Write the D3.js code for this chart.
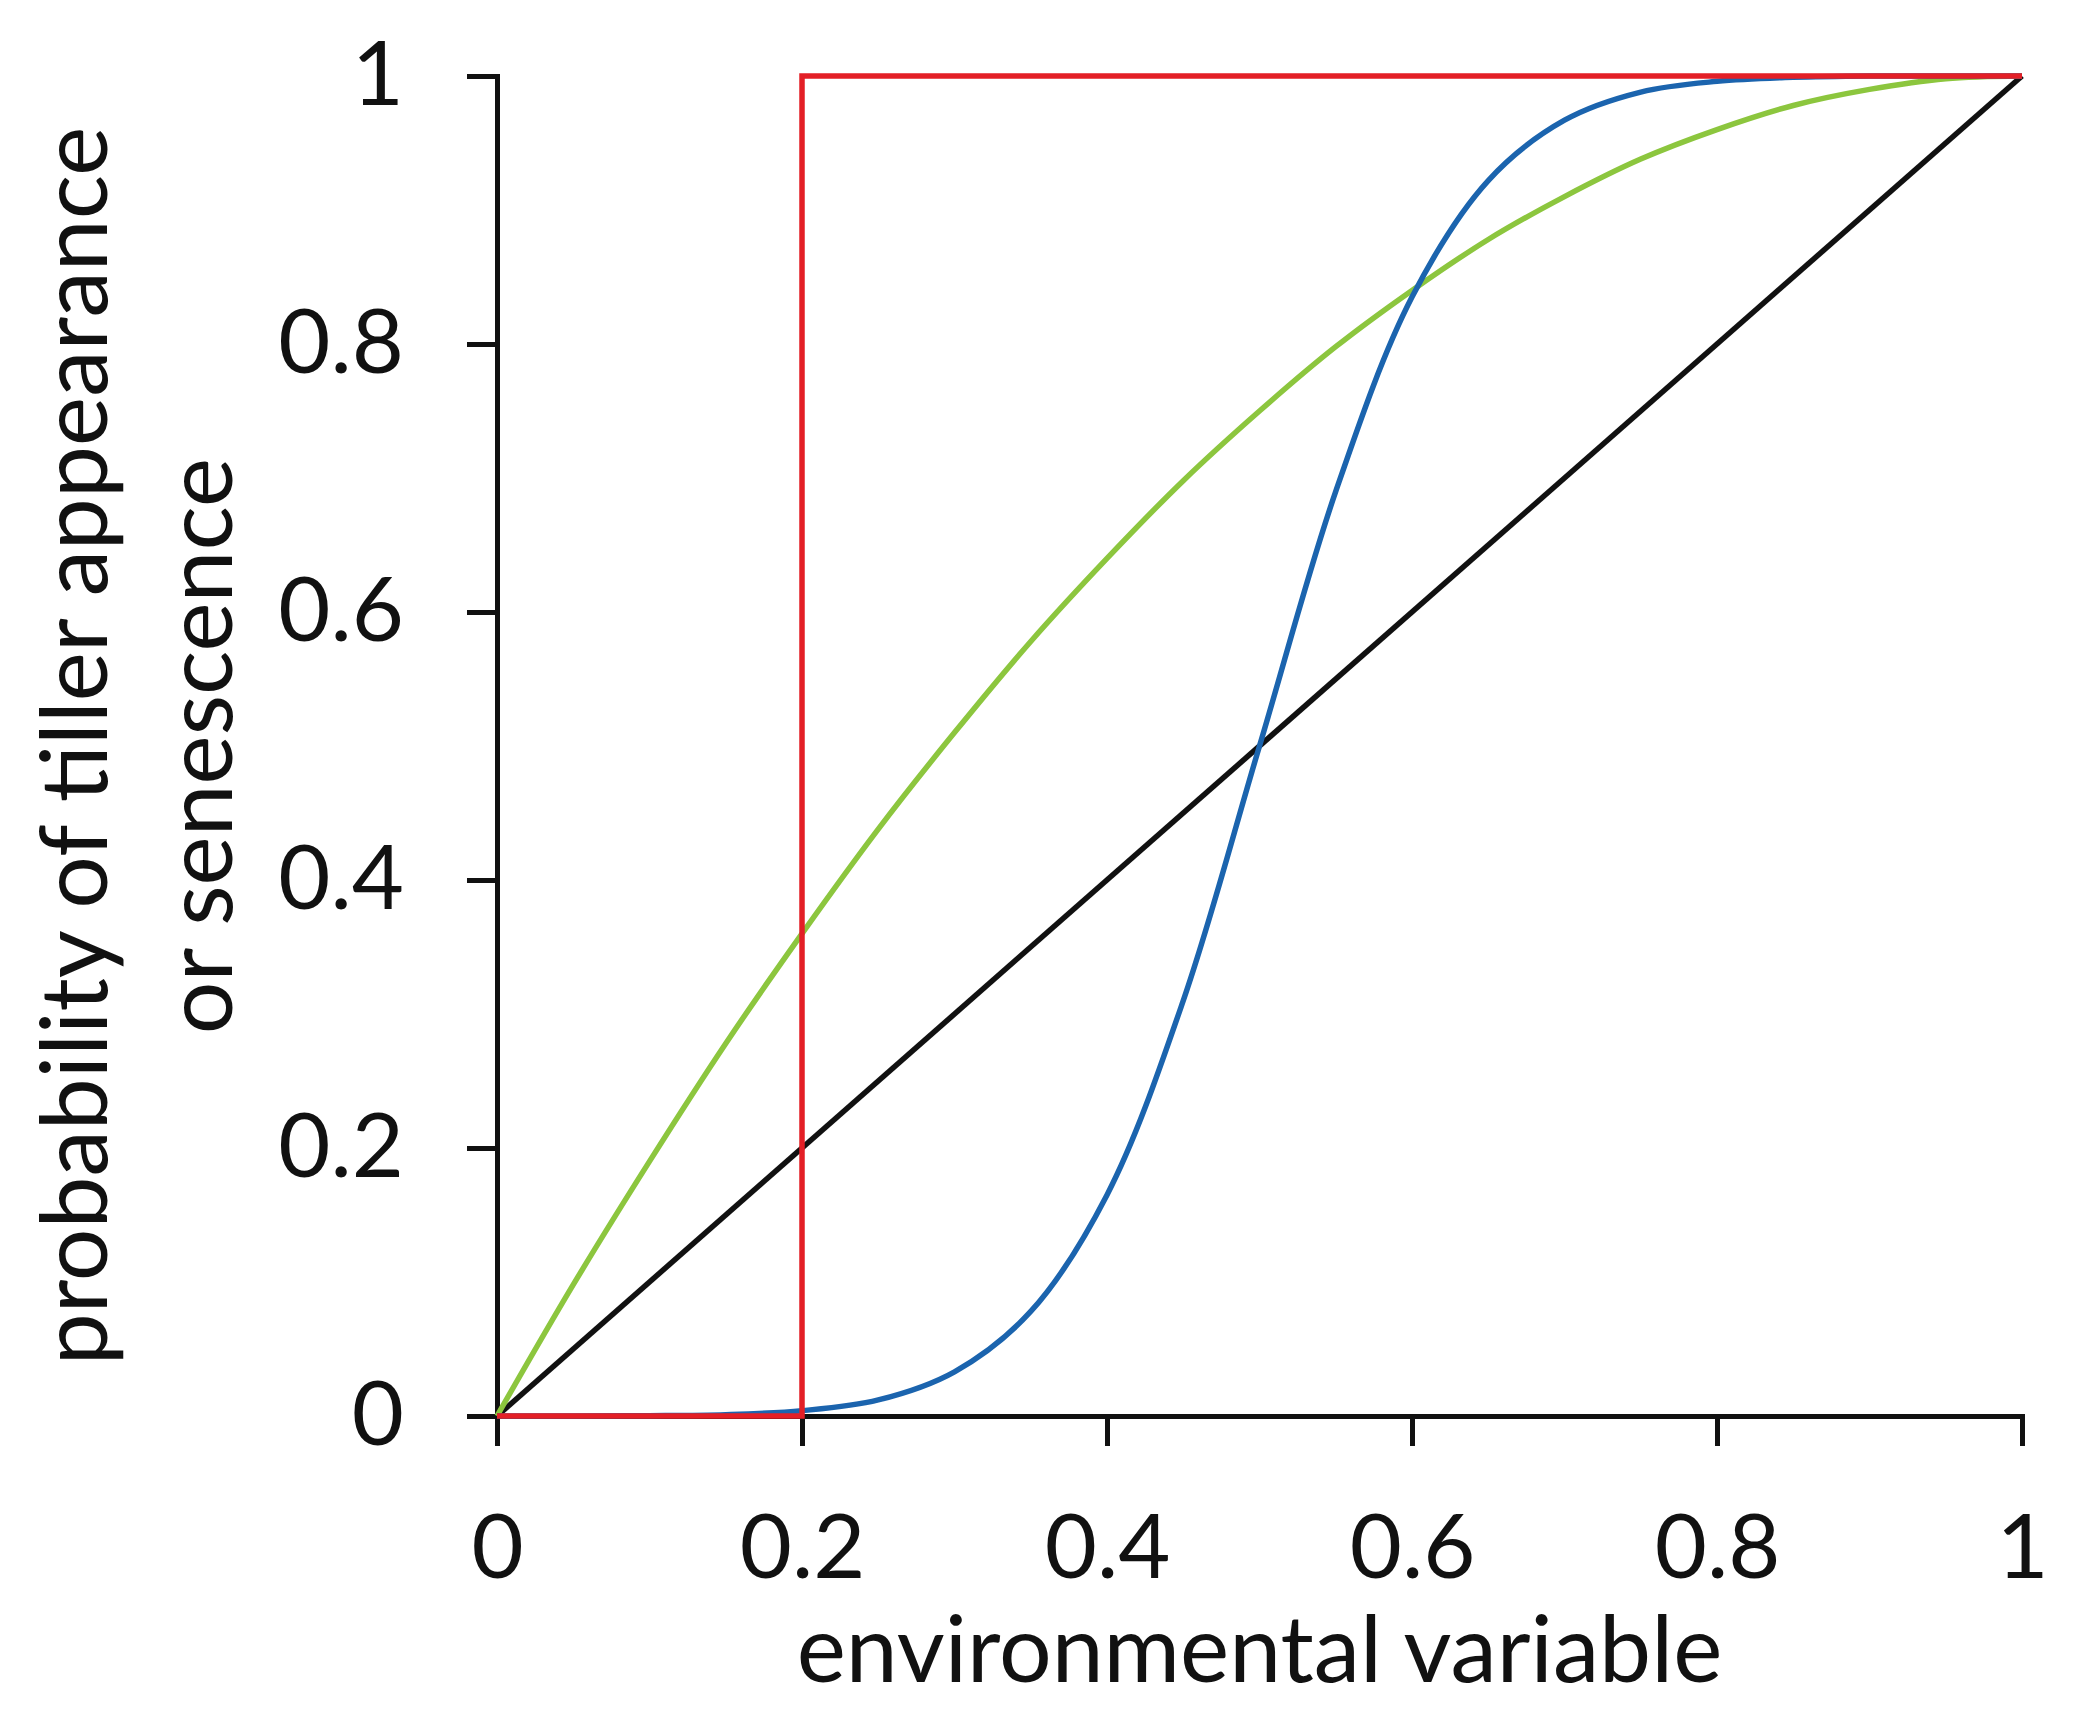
<!DOCTYPE html>
<html>
<head>
<meta charset="utf-8">
<script src="https://cdn.jsdelivr.net/npm/d3@7"></script>
<style>
  body { margin: 0; background: #fff; }
  svg { display: block; }
  text { font-family: Lato, "Open Sans", sans-serif; fill: #111; }
</style>
</head>
<body>
<div id="chart"></div>
<script>
// values
var xTicks = [0, 0.2, 0.4, 0.6, 0.8, 1];
var yTicks = [0, 0.2, 0.4, 0.6, 0.8, 1];
var xTickLabels = ['0', '0.2', '0.4', '0.6', '0.8', '1'];
var yTickLabels = ['0', '0.2', '0.4', '0.6', '0.8', '1'];

var curveX = [0, 0.05, 0.1, 0.15, 0.2, 0.25, 0.3, 0.35, 0.4, 0.45, 0.5,
              0.55, 0.6, 0.65, 0.7, 0.75, 0.8, 0.85, 0.9, 0.95, 1];
var greenY = [0, 0.098, 0.19, 0.278, 0.36, 0.438, 0.51, 0.578, 0.64, 0.698, 0.75,
              0.798, 0.84, 0.878, 0.91, 0.938, 0.96, 0.978, 0.99, 0.998, 1];
var blueY  = [0, 0, 0.0002, 0.001, 0.004, 0.012, 0.033, 0.078, 0.165, 0.31, 0.5,
              0.69, 0.835, 0.922, 0.967, 0.988, 0.996, 0.999, 1, 1, 1];
var blackX = [0, 1];
var blackY = [0, 1];
var redX = [0, 0.2, 0.2, 1];
var redY = [0, 0, 1, 1];

var xTitle = 'environmental variable';
var yTitle = ['probability of tiller appearance', 'or senescence'];

var W = 2084, H = 1729;
var plotL = 497, plotR = 2022, plotT = 76, plotB = 1416;

var svg = d3.select('#chart').append('svg')
    .attr('width', W)
    .attr('height', H);

var x = d3.scaleLinear().domain([0, 1]).range([plotL, plotR]);
var y = d3.scaleLinear().domain([0, 1]).range([plotB, plotT]);

// axes
var xAxis = d3.axisBottom(x)
    .tickValues(xTicks)
    .tickFormat(function(d, i) { return xTickLabels[i]; })
    .tickSize(30)
    .tickPadding(68);
var yAxis = d3.axisLeft(y)
    .tickValues(yTicks)
    .tickFormat(function(d, i) { return yTickLabels[i]; })
    .tickSize(30)
    .tickPadding(63);

var gx = svg.append('g').attr('transform', 'translate(0,' + plotB + ')').call(xAxis);
var gy = svg.append('g').attr('transform', 'translate(' + plotL + ',0)').call(yAxis);

[gx, gy].forEach(function(g) {
    g.selectAll('path, line').attr('stroke', '#111').attr('stroke-width', 5);
    g.selectAll('text')
        .attr('font-size', 90)
        .attr('font-family', 'Lato, "Open Sans", sans-serif')
        .attr('fill', '#111');
});

// series
function toPts(xs, ys) {
    return xs.map(function(v, i) { return [v, ys[i]]; });
}
var smooth = d3.line()
    .x(function(d) { return x(d[0]); })
    .y(function(d) { return y(d[1]); })
    .curve(d3.curveCatmullRom.alpha(0.5));
var straight = d3.line()
    .x(function(d) { return x(d[0]); })
    .y(function(d) { return y(d[1]); });

svg.append('path').attr('d', straight(toPts(blackX, blackY)))
    .attr('fill', 'none').attr('stroke', '#111').attr('stroke-width', 5.5);
svg.append('path').attr('d', smooth(toPts(curveX, greenY)))
    .attr('fill', 'none').attr('stroke', '#8cc63e').attr('stroke-width', 5.5);
svg.append('path').attr('d', smooth(toPts(curveX, blueY)))
    .attr('fill', 'none').attr('stroke', '#1b64ae').attr('stroke-width', 5.5);
svg.append('path').attr('d', straight(toPts(redX, redY)))
    .attr('fill', 'none').attr('stroke', '#e31f26').attr('stroke-width', 5.5);

// titles
svg.append('text')
    .attr('x', (plotL + plotR) / 2)
    .attr('y', 1682)
    .attr('text-anchor', 'middle')
    .attr('font-size', 93)
    .text(xTitle);

var midY = (plotT + plotB) / 2;
svg.append('text')
    .attr('transform', 'translate(107,' + midY + ') rotate(-90)')
    .attr('text-anchor', 'middle')
    .attr('font-size', 93)
    .text(yTitle[0]);
svg.append('text')
    .attr('transform', 'translate(232,' + midY + ') rotate(-90)')
    .attr('text-anchor', 'middle')
    .attr('font-size', 93)
    .text(yTitle[1]);
</script>
</body>
</html>
